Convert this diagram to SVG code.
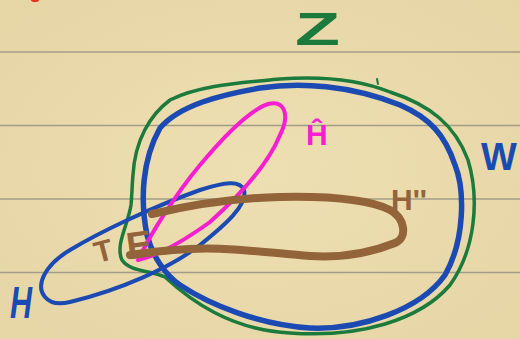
<svg xmlns="http://www.w3.org/2000/svg" width="520" height="339" viewBox="0 0 520 339">
<defs>
<style>
.rule{stroke:#a39c8a;stroke-width:1.5}
.loop{fill:none;stroke-linecap:round;stroke-linejoin:round}
.lbl{font-family:"Liberation Sans",Arial,sans-serif;font-weight:bold}
</style>
<radialGradient id="bg" cx="0.5" cy="0.5" r="0.7">
<stop offset="0" stop-color="#eedfb2"/>
<stop offset="1" stop-color="#e6d5a5"/>
</radialGradient>
</defs>
<rect width="520" height="339" fill="url(#bg)"/>
<g id="rules">
<line class="rule" x1="0" y1="52" x2="520" y2="52"/>
<line class="rule" x1="0" y1="125.5" x2="520" y2="125.5"/>
<line class="rule" x1="0" y1="199" x2="520" y2="199"/>
<line class="rule" x1="0" y1="272.5" x2="520" y2="272.5"/>
</g>
<ellipse cx="35" cy="0" rx="4" ry="2" fill="#e8321e"/>
<g id="Z-set">
<path class="loop" stroke="#1b7a3c" stroke-width="3.5" d="M 133,175 C 135,140 150,115 170,100 C 200,85 240,83 280,79 C 320,76 360,80 390,92 C 430,105 455,125 468,160 C 480,200 475,250 450,285 C 420,320 360,338 290,333 C 230,330 190,300 165,277 C 150,270 130,272 122,260 C 115,245 128,225 131,205 C 132,195 132,185 133,175 Z"/>
<path class="loop" stroke="#1b7a3c" stroke-width="2" d="M 377,79 L 378,84"/>
<text class="lbl" x="295" y="45" font-size="46" fill="#1b7a3c" textLength="45" lengthAdjust="spacingAndGlyphs">Z</text>
</g>
<g id="W-set">
<path class="loop" stroke="#1c4ab3" stroke-width="5.5" d="M 147,235 C 140,200 142,160 160,128 C 180,105 220,95 260,88 C 300,82 350,85 400,105 C 430,118 445,135 455,165 C 465,190 465,240 445,275 C 420,310 360,330 310,328 C 260,325 210,305 180,285 C 165,275 152,255 147,235 Z"/>
<text class="lbl" x="481" y="170" font-size="38" fill="#1c4ab3">W</text>
</g>
<g id="H-set">
<path class="loop" stroke="#1c4ab3" stroke-width="4" d="M 45,297 C 35,285 45,265 70,250 C 100,232 150,208 200,190 C 225,182 240,180 244,190 C 248,205 225,225 200,245 C 170,268 120,290 70,302 C 58,305 50,303 45,297 Z"/>
<text class="lbl" x="10" y="318" font-size="44" font-style="italic" fill="#1c4ab3" textLength="22" lengthAdjust="spacingAndGlyphs">H</text>
</g>
<g id="Hhat-set">
<path class="loop" stroke="#f51ed0" stroke-width="4" d="M 138,260 C 150,235 175,195 200,165 C 225,135 250,110 268,104 C 285,100 290,115 280,135 C 268,165 240,195 210,222 C 185,240 160,255 138,260 Z"/>
<text class="lbl" x="306" y="145" font-size="30" fill="#f51ed0">Ĥ</text>
</g>
<g id="H2-set">
<path class="loop" stroke="#93643a" stroke-width="8" d="M 152,214 C 190,205 230,198 280,197 C 330,196 370,200 390,210 C 405,218 408,238 395,243 C 370,253 340,258 310,256 C 270,253 230,247 190,249 C 165,250 145,253 130,255"/>
<text class="lbl" x="391" y="210" font-size="30" fill="#93643a">H''</text>
<text class="lbl" x="126" y="258" font-size="38" fill="#93643a" transform="rotate(-8 138 242)">E</text>
<text class="lbl" x="94" y="261" font-size="30" fill="#93643a" transform="rotate(-15 104 250)">T</text>
</g>
</svg>
